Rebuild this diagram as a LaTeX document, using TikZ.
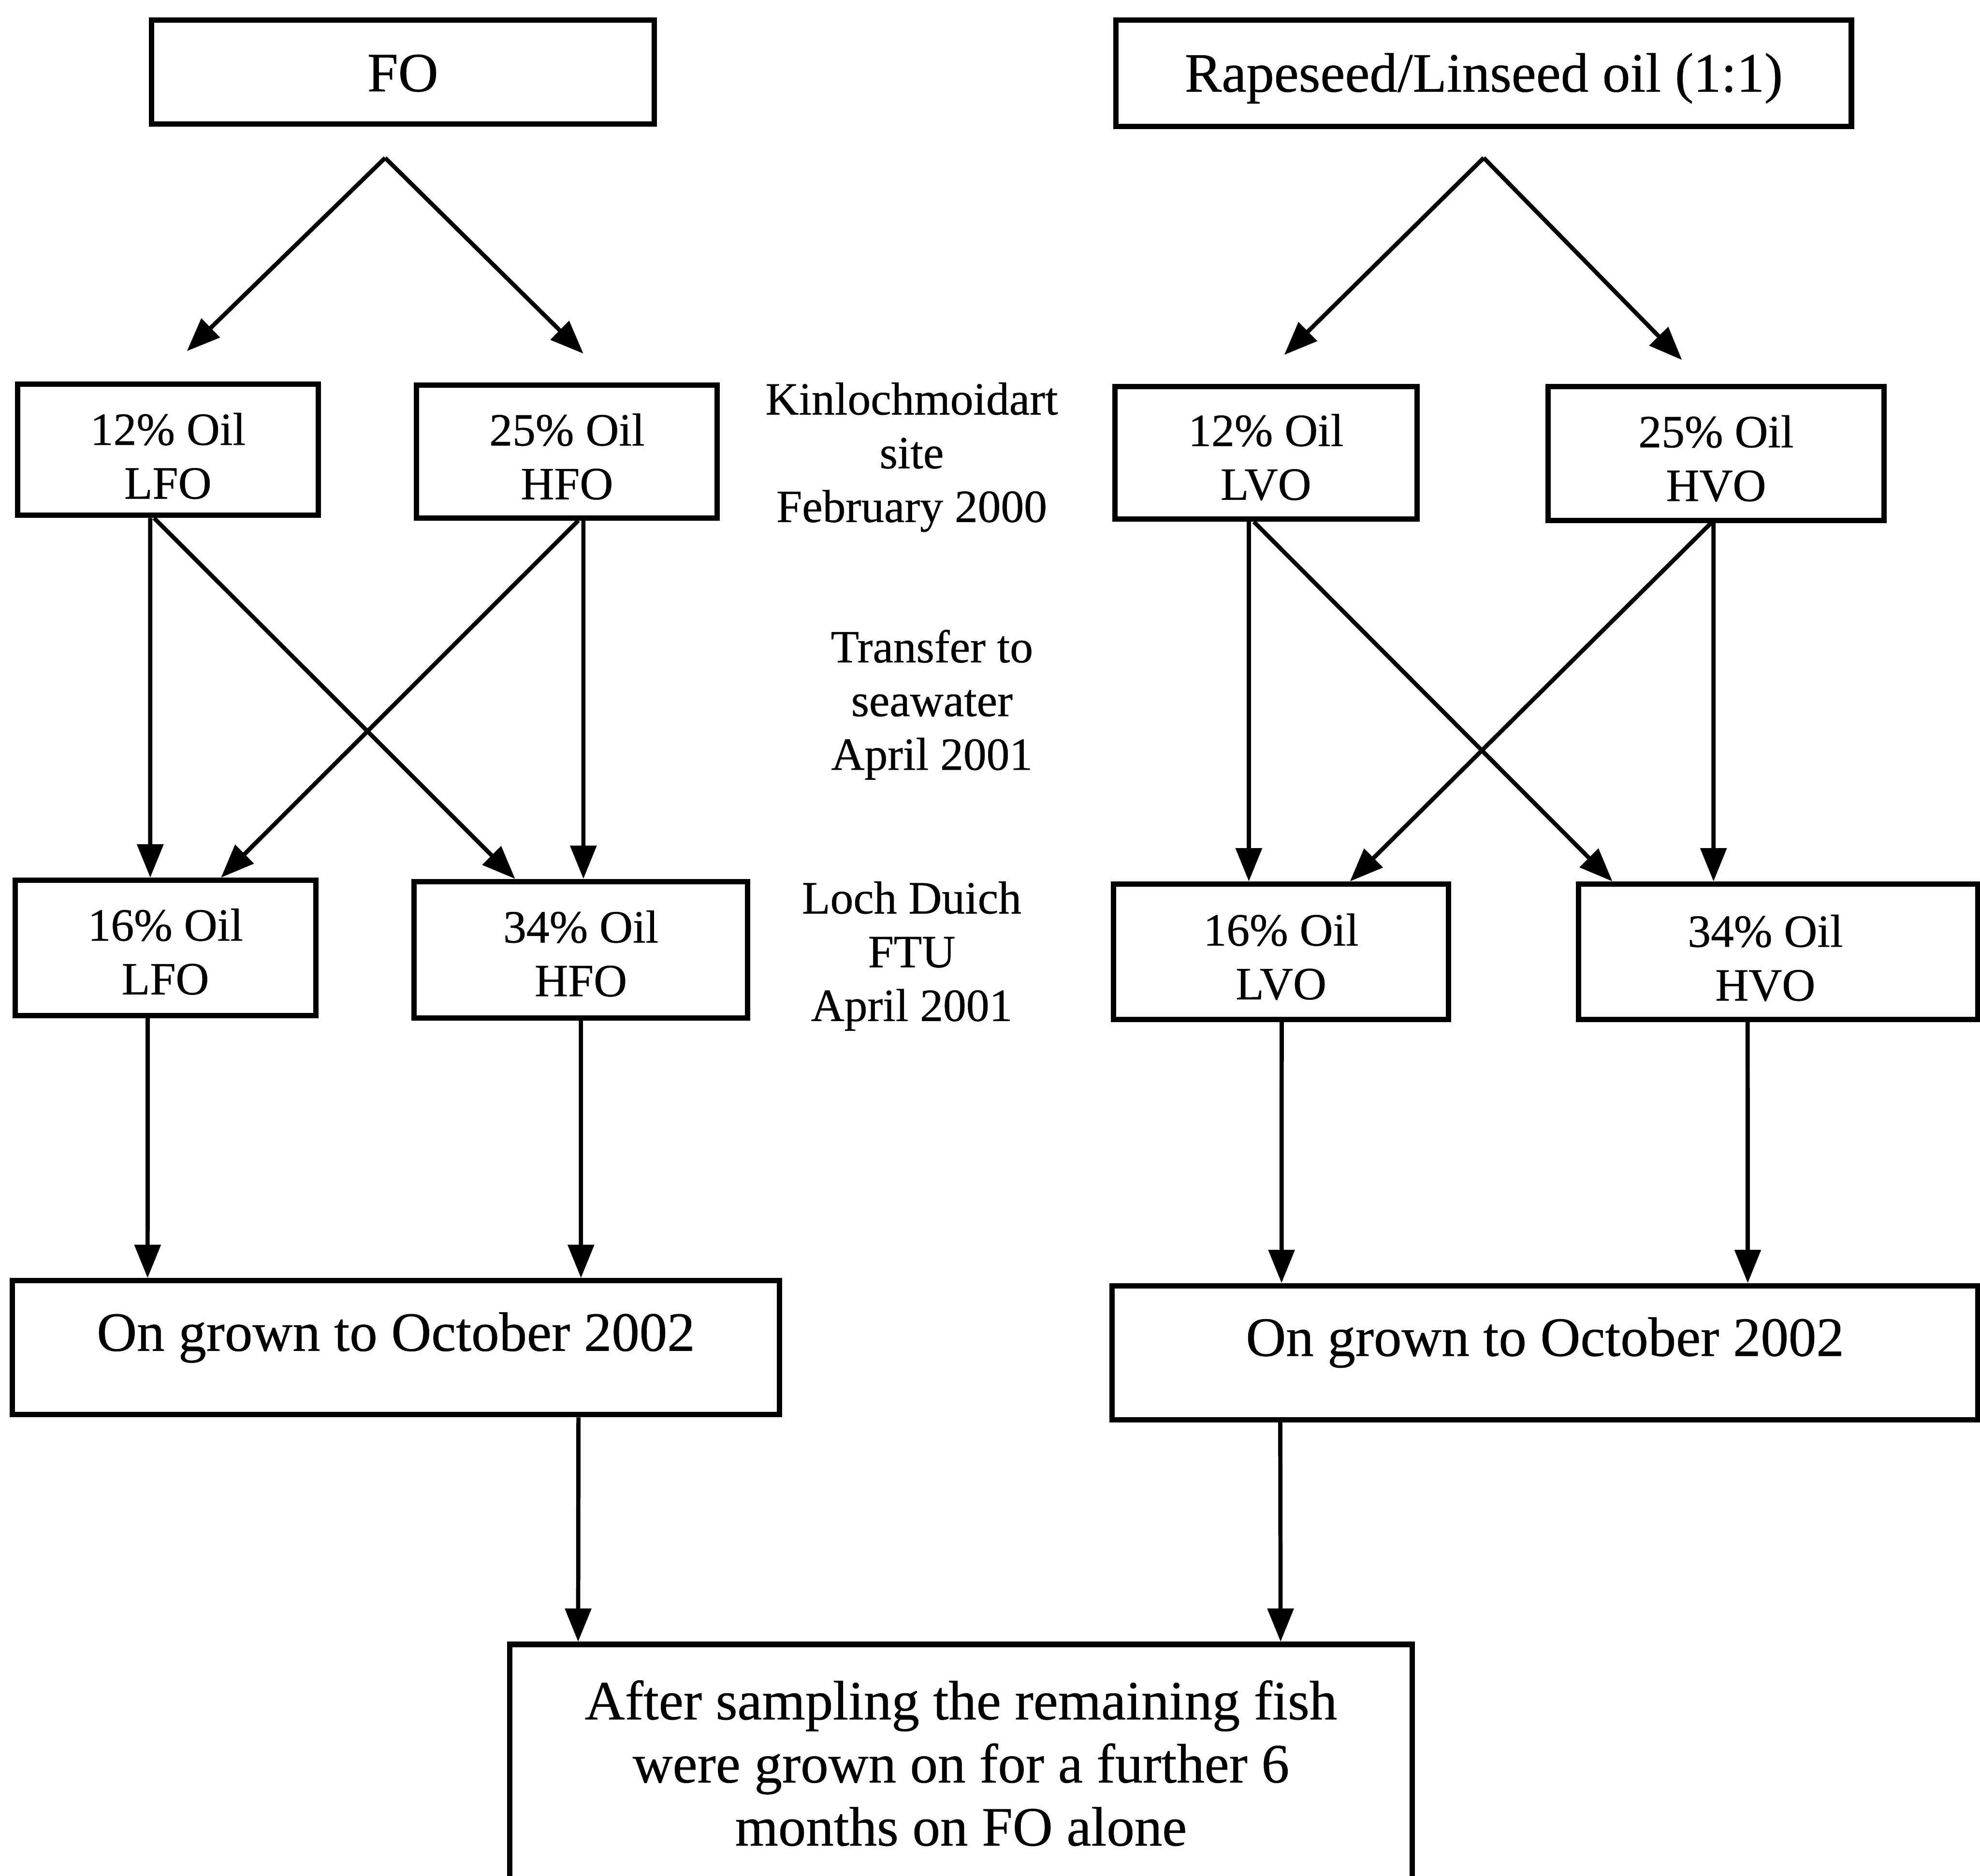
\documentclass[tikz,border=0pt]{standalone}
\usepackage{fontspec}
\setmainfont{Liberation Serif}[FakeBold=0.5]
\usetikzlibrary{arrows.meta}
\begin{document}
\begin{tikzpicture}[x=0.01cm,y=-0.01cm,
  box/.style={draw, line width=1.2pt, inner sep=0pt},
  small/.style={align=center, inner sep=0pt, font=\fontsize{10.4}{12.1}\selectfont},
  big/.style={align=center, inner sep=0pt, font=\fontsize{12.5}{14.2}\selectfont},
  arr/.style={line width=0.95pt, -{Triangle[length=7.5pt,width=5.8pt]}}]
\useasboundingbox (0,0) rectangle (1568,1485);

% top level diets
\node[box, minimum width=3.98cm, minimum height=0.82cm] (fo) at (319,57) {};
\node[big] (fot) at ([yshift=-0.01cm]fo.center) {FO};
\node[box, minimum width=5.82cm, minimum height=0.84cm] (rl) at (1175,58) {};
\node[big] (rlt) at ([yshift=-0.04cm]rl.center) {Rapeseed/Linseed oil (1:1)};

% split points and arrow ends below the diet boxes
\coordinate (fosplit) at (305,125);
\coordinate (fol) at (148,278);
\coordinate (for) at (462,280);
\coordinate (rlsplit) at (1175,125);
\coordinate (rll) at (1017,281);
\coordinate (rlr) at (1332,285);

% freshwater oil levels
\node[box, minimum width=2.38cm, minimum height=1.04cm] (a12) at (133,356) {};
\node[small] (a12t) at ([yshift=-0.05cm]a12.center) {12\% Oil\\LFO};
\node[box, minimum width=2.38cm, minimum height=1.05cm] (a25) at (449,357.5) {};
\node[small] (a25t) at ([yshift=-0.04cm]a25.center) {25\% Oil\\HFO};
\node[box, minimum width=2.39cm, minimum height=1.05cm] (b12) at (1002.5,358.5) {};
\node[small] (b12t) at ([yshift=-0.035cm]b12.center) {12\% Oil\\LVO};
\node[box, minimum width=2.66cm, minimum height=1.06cm] (b25) at (1359,359) {};
\node[small] (b25t) at ([yshift=-0.04cm]b25.center) {25\% Oil\\HVO};

% seawater oil levels
\node[box, minimum width=2.38cm, minimum height=1.07cm] (a16) at (131,750.5) {};
\node[small] (a16t) at ([yshift=-0.03cm]a16.center) {16\% Oil\\LFO};
\node[box, minimum width=2.64cm, minimum height=1.08cm] (a34) at (460,752) {};
\node[small] (a34t) at ([yshift=-0.03cm]a34.center) {34\% Oil\\HFO};
\node[box, minimum width=2.65cm, minimum height=1.07cm] (b16) at (1014.5,753.5) {};
\node[small] (b16t) at ([yshift=-0.04cm]b16.center) {16\% Oil\\LVO};
\node[box, minimum width=3.16cm, minimum height=1.07cm] (b34) at (1408,753.5) {};
\node[small] (b34t) at ([xshift=-0.1cm,yshift=-0.05cm]b34.center) {34\% Oil\\HVO};

% on-growing
\node[box, minimum width=6.07cm, minimum height=1.06cm] (ga) at (313.5,1067) {};
\node[big] (gat) at ([yshift=0.08cm]ga.center) {On grown to October 2002};
\node[box, minimum width=6.85cm, minimum height=1.06cm] (gb) at (1223.5,1071) {};
\node[big] (gbt) at ([yshift=0.08cm]gb.center) {On grown to October 2002};

% final phase (box runs past the lower edge)
\node[box, minimum width=7.14cm, minimum height=1.92cm] (fin) at (761,1398) {};
\node[big] (fint) at ([yshift=0.02cm]fin.center)
  {After sampling the remaining fish\\were grown on for a further 6\\months on FO alone};

% timeline notes
\node[small] (n1) at (722,362) {Kinlochmoidart\\site\\February 2000};
\node[small] (n2) at (738,558) {Transfer to\\seawater\\April 2001};
\node[small] (n3) at (722,757) {Loch Duich\\FTU\\April 2001};

% diet split arrows
\draw[arr] (fosplit) -- (fol);
\draw[arr] (fosplit) -- (for);
\draw[arr] (rlsplit) -- (rll);
\draw[arr] (rlsplit) -- (rlr);

% freshwater to seawater
\draw[arr] ([xshift=-0.14cm]a12.south) -- ([xshift=-0.12cm]a16.north);
\draw[arr] ([xshift=-0.11cm]a12.south) -- ([xshift=-0.52cm]a34.north);
\draw[arr] ([xshift=0.13cm]a25.south) -- ([xshift=0.02cm]a34.north);
\draw[arr] ([xshift=0.09cm]a25.south) -- ([xshift=0.44cm]a16.north);
\draw[arr] ([xshift=-0.135cm]b12.south) -- ([xshift=-0.255cm]b16.north);
\draw[arr] ([xshift=-0.095cm]b12.south) -- ([xshift=-1.31cm]b34.north);
\draw[arr] ([xshift=-0.02cm]b25.south) -- ([xshift=-0.51cm]b34.north);
\draw[arr] ([xshift=-0.04cm]b25.south) -- ([xshift=0.545cm]b16.north);

% seawater to on-growing
\draw[arr] ([xshift=-0.14cm]a16.south) -- ([xshift=-1.965cm]ga.north);
\draw[arr] (a34.south) -- ([xshift=1.465cm]ga.north);
\draw[arr] ([xshift=0.005cm]b16.south) -- ([xshift=-2.085cm]gb.north);
\draw[arr] ([xshift=-0.24cm]b34.south) -- ([xshift=1.605cm]gb.north);

% on-growing to final phase
\draw[arr] ([xshift=1.445cm]ga.south) -- ([xshift=-3.03cm]fin.north);
\draw[arr] ([xshift=-2.095cm]gb.south) -- ([xshift=2.53cm]fin.north);
\end{tikzpicture}
\end{document}
